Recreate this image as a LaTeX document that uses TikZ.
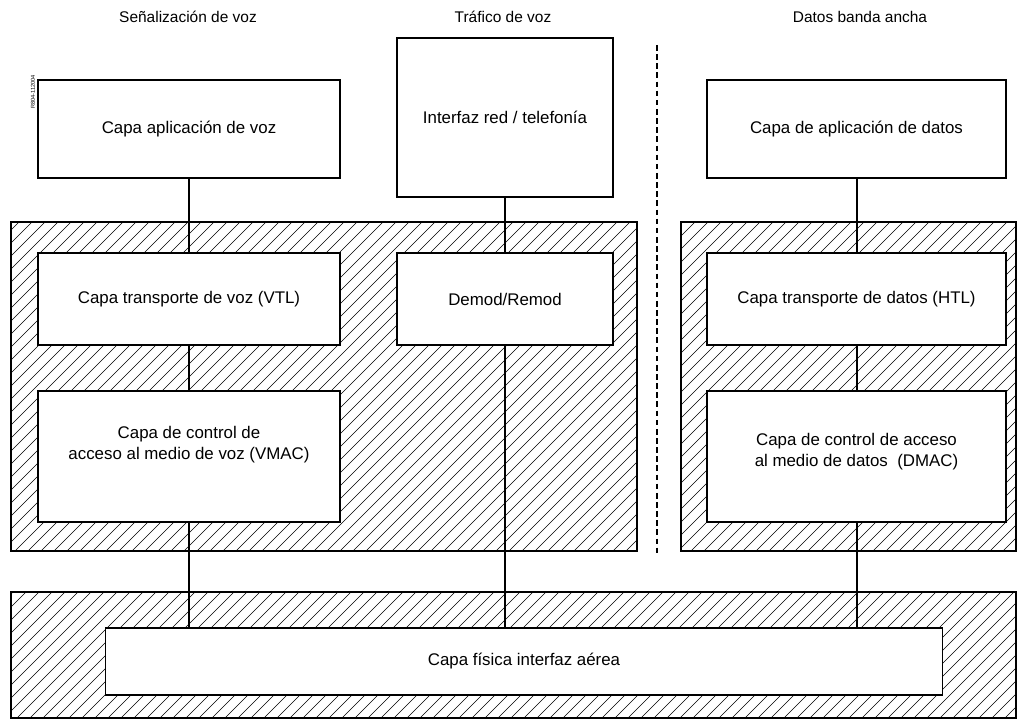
\documentclass[tikz,border=0pt]{standalone}
\usepackage{fontspec}
\setmainfont{Liberation Sans}
\tikzset{
  capa/.style={draw, line width=0.8pt, fill=white, align=center, inner sep=0pt,
    font=\fontsize{12}{15}\selectfont},
  titulo/.style={font=\fontsize{11}{13}\selectfont},
  rayado/.style={line width=0.45pt},
  marco/.style={draw, line width=0.8pt},
  enlace/.style={line width=0.8pt}
}
\begin{document}
\begin{tikzpicture}[x=0.025cm, y=-0.025cm]
\useasboundingbox (0,0) rectangle (1026,728);

% titles
\node[titulo] (tsen) at (188,17) {Señalización de voz};
\node[titulo] (ttra) at (503,17) {Tráfico de voz};
\node[titulo] (tdat) at (860,17) {Datos banda ancha};
\node[font=\fontsize{4}{5}\selectfont, rotate=90, inner sep=0pt] (ref) at (33,92) {R804-112004};

% separator
\draw[line width=0.8pt, dash pattern=on 4pt off 2.5pt] (657,45) -- (657,553);

% hatched areas
\foreach \xa/\ya/\xb/\yb in {11/222/637/551, 681/222/1016/551, 11/592/1016/718} {
  \begin{scope}
    \clip (\xa,\ya) rectangle (\xb,\yb);
    \foreach \i in {-760,-747,...,1040}
      \draw[rayado] (\i,728) -- ++(728,-728);
  \end{scope}
  \draw[marco] (\xa,\ya) rectangle (\xb,\yb);
}

% layers
\node[capa, minimum width=7.55cm, minimum height=2.45cm] (vapp) at (189,129) {Capa aplicación de voz};
\node[capa, minimum width=5.4cm, minimum height=3.975cm] (red) at (505,117.5) {Interfaz red / telefonía};
\node[capa, minimum width=7.475cm, minimum height=2.45cm] (dapp) at (856.5,129) {Capa de aplicación de datos};
\node[capa, minimum width=7.55cm, minimum height=2.3cm] (vtl) at (189,299) {Capa transporte de voz (VTL)};
\node[capa, minimum width=5.4cm, minimum height=2.3cm] (demod) at (505,299) {Demod/Remod};
\node[capa, minimum width=7.475cm, minimum height=2.3cm] (htl) at (856.5,299) {Capa transporte de datos (HTL)};
\node[capa, minimum width=7.55cm, minimum height=3.275cm, text depth=0.7cm] (vmac) at (189,456.5) {Capa de control de\\acceso al medio de voz (VMAC)};
\node[capa, minimum width=7.475cm, minimum height=3.275cm, text depth=0.35cm] (dmac) at (856.5,456.5) {Capa de control de acceso\\al medio de datos\ \ (DMAC)};
\node[capa, minimum width=20.9cm, minimum height=1.675cm] (fis) at (524,661.5) {Capa física interfaz aérea};

% links
\draw[enlace] (vapp) -- (vtl);
\draw[enlace] (vtl) -- (vmac);
\draw[enlace] (vmac.south) -- (vmac.south |- fis.north);
\draw[enlace] (red) -- (demod);
\draw[enlace] (demod.south) -- (demod.south |- fis.north);
\draw[enlace] ([xshift=0.0125cm]dapp.south) -- ([xshift=0.0125cm]htl.north);
\draw[enlace] ([xshift=0.0125cm]htl.south) -- ([xshift=0.0125cm]dmac.north);
\draw[enlace] ([xshift=0.0125cm]dmac.south) -- ([xshift=0.0125cm]dmac.south |- fis.north);
\end{tikzpicture}
\end{document}
